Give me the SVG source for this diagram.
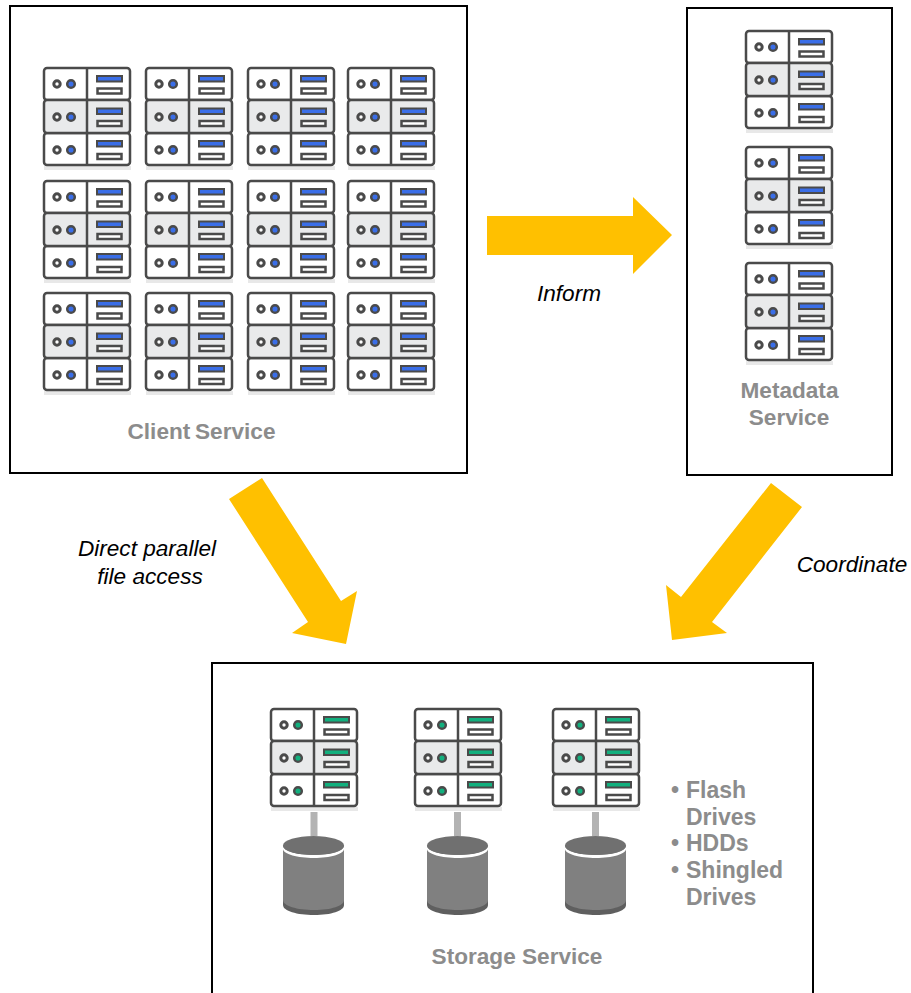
<svg xmlns="http://www.w3.org/2000/svg" width="911" height="993" viewBox="0 0 911 993">
<style>
.box{fill:#fff;stroke:#000;stroke-width:2}
.arrow{fill:#ffc000}
.lbl{font-family:"Liberation Sans",Arial,sans-serif;font-size:22.6px;font-weight:bold;fill:#8c8c8c}
.list{font-size:23px}
.cap{font-family:"Liberation Sans",Arial,sans-serif;font-size:22.6px;font-style:italic;fill:#000}
.o{fill:none;stroke:#4a4a4a;stroke-width:2.5}
.r{fill:#fff;stroke:#4a4a4a;stroke-width:2.5}
.g{fill:#e9eaeb;stroke:#4a4a4a;stroke-width:2.5}
.link{stroke:#b3b3b3;stroke-width:7;fill:none}
.cyl{fill:#808080}
.top{fill:#707070}
.dark{fill:#5f5f5f}
</style>
<defs>
<g id="base">
<rect x="1" y="100" width="87" height="4" fill="#e8e8e8"/>
<rect x="1" y="2" width="86" height="32" rx="3" class="r"/>
<rect x="1" y="67" width="86" height="32" rx="3" class="r"/>
<rect x="1" y="34" width="86" height="33" rx="3" class="g"/>
<path d="M44 2V99" class="o"/>
<circle cx="14" cy="18" r="3.200" fill="#fff" stroke="#4a4a4a" stroke-width="3"/>
<circle cx="14" cy="51" r="3.200" fill="#fff" stroke="#4a4a4a" stroke-width="3"/>
<circle cx="14" cy="84" r="3.200" fill="#fff" stroke="#4a4a4a" stroke-width="3"/>
<rect x="54.500" y="22.500" width="24" height="5" class="r"/>
<rect x="54.500" y="55" width="24" height="5" class="r"/>
<rect x="54.500" y="88" width="24" height="5" class="r"/>
<rect x="53" y="9" width="27" height="7.500" fill="#4a4a4a"/>
<rect x="53" y="41.500" width="27" height="7.500" fill="#4a4a4a"/>
<rect x="53" y="74" width="27" height="7.500" fill="#4a4a4a"/>
</g>
<g id="sb">
<use href="#base"/>
<g fill="#3a6ee8" stroke="#4a4a4a" stroke-width="2.500">
<circle cx="28" cy="18" r="3.800"/><circle cx="28" cy="51" r="3.800"/><circle cx="28" cy="84" r="3.800"/>
</g>
<g fill="#3a6ee8">
<rect x="55" y="11" width="23" height="3.500"/><rect x="55" y="43.500" width="23" height="3.500"/><rect x="55" y="76" width="23" height="3.500"/>
</g>
</g>
<g id="sg">
<use href="#base"/>
<g fill="#12b07e" stroke="#4a4a4a" stroke-width="2.500">
<circle cx="28" cy="18" r="3.800"/><circle cx="28" cy="51" r="3.800"/><circle cx="28" cy="84" r="3.800"/>
</g>
<g fill="#12b07e">
<rect x="55" y="11" width="23" height="3.500"/><rect x="55" y="43.500" width="23" height="3.500"/><rect x="55" y="76" width="23" height="3.500"/>
</g>
</g>
<g id="cy">
<path d="M0 10V69C0 75 14 79 31 79S61 75 61 69V10Z" class="dark"/>
<path d="M0 10V64C0 70 14 74 31 74S61 70 61 64V10Z" class="cyl"/>
<path d="M0 10C0 15 14 19 31 19S61 15 61 10V13C61 18 47 22 31 22S0 18 0 13Z" fill="#fff"/>
<ellipse cx="30.500" cy="9.500" rx="30.500" ry="9.500" class="top"/>
</g>
</defs>

<g id="client-service">
<rect class="box" x="10" y="6" width="457" height="467"/>
<use href="#sb" x="43" y="66"/><use href="#sb" x="145" y="66"/><use href="#sb" x="247" y="66"/><use href="#sb" x="347" y="66"/>
<use href="#sb" x="43" y="179"/><use href="#sb" x="145" y="179"/><use href="#sb" x="247" y="179"/><use href="#sb" x="347" y="179"/>
<use href="#sb" x="43" y="291"/><use href="#sb" x="145" y="291"/><use href="#sb" x="247" y="291"/><use href="#sb" x="347" y="291"/>
<text class="lbl" x="201.500" y="439" text-anchor="middle" word-spacing="-1.500">Client Service</text>
</g>

<g id="metadata-service">
<rect class="box" x="687" y="8" width="205" height="467"/>
<use href="#sb" x="745" y="29"/><use href="#sb" x="745" y="145"/><use href="#sb" x="745" y="261"/>
<text class="lbl" x="789.500" y="398" text-anchor="middle">Metadata</text>
<text class="lbl" x="789" y="425" text-anchor="middle">Service</text>
</g>

<g id="storage-service">
<path class="box" d="M212 993V663H813V993"/>
<use href="#sg" x="270" y="707"/><use href="#sg" x="414" y="707"/><use href="#sg" x="552" y="707"/>
<path class="link" d="M314 812V836M457.500 812V836M595.500 812V836"/>
<use href="#cy" x="283" y="836"/><use href="#cy" x="427" y="836"/><use href="#cy" x="565" y="836"/>
<text class="lbl list" x="671" y="798">•</text><text class="lbl list" x="686" y="798">Flash</text>
<text class="lbl list" x="686" y="825">Drives</text>
<text class="lbl list" x="671" y="851">•</text><text class="lbl list" x="686" y="851">HDDs</text>
<text class="lbl list" x="671" y="878">•</text><text class="lbl list" x="686" y="878">Shingled</text>
<text class="lbl list" x="686" y="905">Drives</text>
<text class="lbl" x="517" y="964" text-anchor="middle">Storage Service</text>
</g>

<g id="connectors">
<polygon class="arrow" points="487,216 633,216 633,197 672,235 633,274 633,255 487,255"/>
<polygon class="arrow" points="262,478 229,499 308,622 292,633 346,644 357,591 341,601"/>
<polygon class="arrow" points="771,483 802,507 712,622 727,633 672,640 666,585 681,597"/>
<text class="cap" x="569" y="301" text-anchor="middle">Inform</text>
<text class="cap" x="147" y="556" text-anchor="middle">Direct parallel</text>
<text class="cap" x="150" y="584" text-anchor="middle">file access</text>
<text class="cap" x="852" y="572" text-anchor="middle">Coordinate</text>
</g>
</svg>
